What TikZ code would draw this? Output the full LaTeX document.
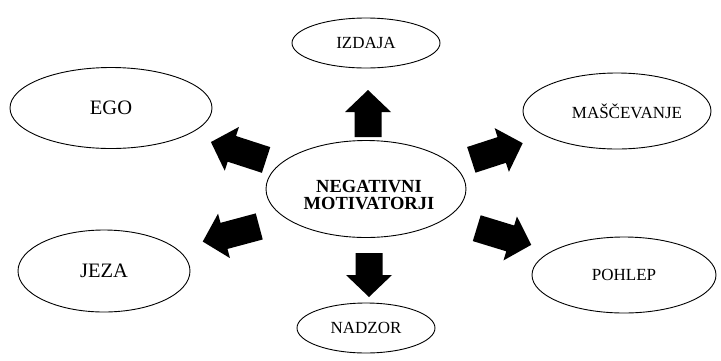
\documentclass[tikz,border=0pt]{standalone}
\usepackage{fontspec}
\setmainfont{Liberation Serif}
\usetikzlibrary{shapes.geometric}
\begin{document}
\begin{tikzpicture}[x=1pt,y=-1pt,
  oval/.style={draw, ellipse, line width=0.9pt, inner sep=0pt},
  lbl/.style={font=\fontsize{17}{20}\selectfont},
  biglbl/.style={font=\fontsize{20.5}{23}\selectfont},
  blockfill/.style={fill=black}]
\useasboundingbox (0,0) rectangle (721,360);
% ellipses
\node[oval, minimum width=200pt, minimum height=97pt] (c) at (366,189) {};
\node[align=center, font=\bfseries\fontsize{18.5}{17.5}\selectfont, inner sep=0pt] (ct) at (369,195) {NEGATIVNI\\MOTIVATORJI};
\node[oval, lbl, minimum width=148pt, minimum height=50pt] (izdaja) at (366,43) {IZDAJA};
\node[oval, biglbl, minimum width=202pt, minimum height=81pt] (ego) at (111,108) {EGO};
\node[oval, minimum width=188pt, minimum height=76pt] (mas) at (617,111) {};
\node[lbl, inner sep=0pt] (mast) at (627,111) {MAŠČEVANJE};
\node[oval, biglbl, minimum width=172pt, minimum height=82pt] (jeza) at (104,271) {JEZA};
\node[oval, lbl, minimum width=184pt, minimum height=76pt] (pohlep) at (624,275) {POHLEP};
\node[oval, lbl, minimum width=138pt, minimum height=50pt] (nadzor) at (366,328) {NADZOR};
% block arrows
\newcommand\blockarr[4]{%
  \fill[blockfill, shift={(#1,#2)}, rotate=#3]
    (-#4/2,-13.5) -- (#4/2-22,-13.5) -- (#4/2-22,-23) -- (#4/2,0)
    -- (#4/2-22,23) -- (#4/2-22,13.5) -- (-#4/2,13.5) -- cycle;}
\blockarr{238.5}{151}{162}{58}
\blockarr{497}{151.5}{18}{54}
\blockarr{231}{234}{195}{58.5}
\blockarr{504}{236.5}{-17}{57}
\blockarr{368}{113.5}{90}{47}
\blockarr{369}{275}{-90}{44}
\end{tikzpicture}
\end{document}
